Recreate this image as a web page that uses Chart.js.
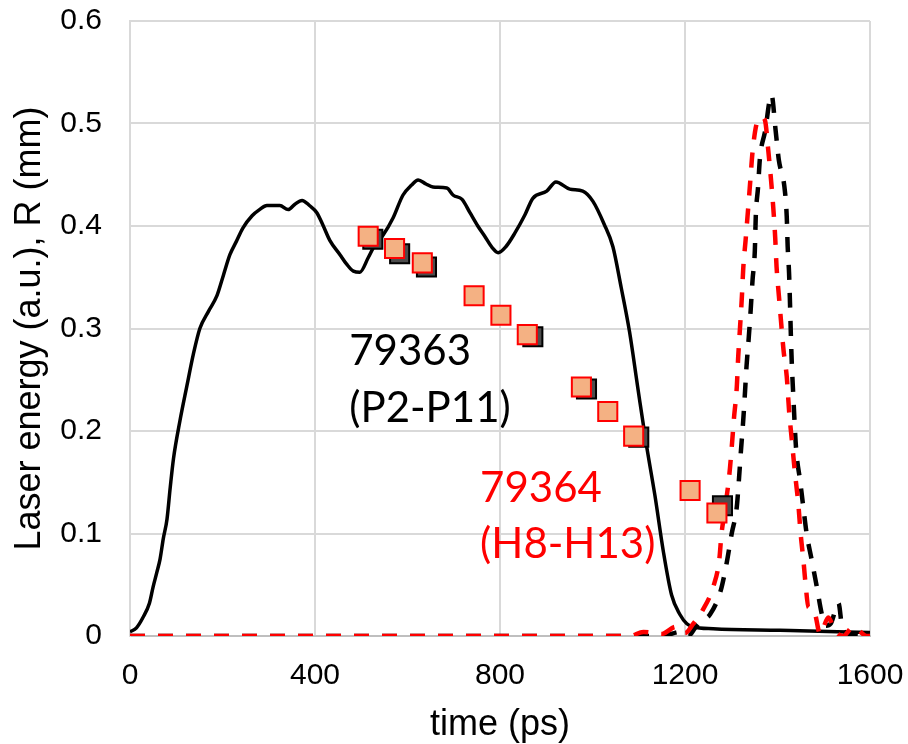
<!DOCTYPE html>
<html>
<head>
<script src="https://cdnjs.cloudflare.com/ajax/libs/Chart.js/4.4.1/chart.umd.min.js"></script>
<style>
  body { margin: 0; background: #fff; }
</style>
</head>
<body>
<canvas id="canvas" width="908" height="744"></canvas>
<script>
// laser pulse (solid black)
var laserTime = [0, 14, 28, 42, 50, 58, 65, 72, 80, 87, 94, 108, 123, 137, 151, 170, 188, 202, 216, 230, 244, 264, 280, 296, 324, 342, 356, 372, 388, 404, 418, 432, 454, 468, 483, 497, 515, 530, 547, 569, 590, 609, 623, 640, 655, 685, 699, 718, 735, 752, 767, 783, 796, 813, 832, 854, 871, 901, 921, 951, 979, 1001, 1025, 1044, 1062, 1080, 1098, 1116, 1135, 1153, 1171, 1189, 1204, 1218, 1261, 1405, 1550, 1600];
var laserEnergy = [0.004, 0.008, 0.018, 0.032, 0.048, 0.062, 0.075, 0.095, 0.114, 0.145, 0.173, 0.21, 0.244, 0.275, 0.300, 0.317, 0.332, 0.352, 0.372, 0.385, 0.398, 0.410, 0.416, 0.420, 0.420, 0.416, 0.421, 0.425, 0.420, 0.413, 0.400, 0.386, 0.372, 0.363, 0.356, 0.355, 0.369, 0.382, 0.391, 0.408, 0.430, 0.440, 0.445, 0.441, 0.438, 0.437, 0.430, 0.426, 0.413, 0.400, 0.390, 0.379, 0.374, 0.380, 0.393, 0.411, 0.427, 0.434, 0.443, 0.436, 0.434, 0.424, 0.402, 0.380, 0.340, 0.297, 0.242, 0.188, 0.137, 0.083, 0.040, 0.021, 0.012, 0.009, 0.007, 0.0055, 0.004, 0.0035];

// x-ray pulses (dashed)
var pulseTime79363 = [0, 1150, 1190, 1207, 1222, 1236, 1254, 1277, 1290, 1301, 1312, 1317, 1321, 1326, 1330, 1333, 1338, 1342, 1346, 1351, 1353, 1358, 1362, 1373, 1387, 1396, 1403, 1415, 1420, 1422, 1425, 1427, 1429, 1431, 1434, 1440, 1449, 1456, 1463, 1474, 1485, 1496, 1505, 1515, 1532, 1540, 1555, 1580, 1600];
var pulse79363 = [0, 0, 0.004, 0, 0.008, 0.015, 0.021, 0.044, 0.071, 0.100, 0.126, 0.155, 0.181, 0.211, 0.240, 0.263, 0.292, 0.318, 0.347, 0.376, 0.409, 0.438, 0.466, 0.492, 0.528, 0.493, 0.464, 0.438, 0.409, 0.380, 0.354, 0.325, 0.292, 0.265, 0.236, 0.184, 0.151, 0.125, 0.100, 0.074, 0.048, 0.021, 0.010, 0.012, 0.032, 0.008, 0.002, 0, 0];
var pulseTime79364 = [0, 1080, 1110, 1150, 1180, 1200, 1218, 1238, 1261, 1274, 1279, 1286, 1296, 1301, 1306, 1312, 1315, 1319, 1323, 1326, 1331, 1336, 1341, 1346, 1355, 1366, 1373, 1380, 1386, 1391, 1395, 1398, 1403, 1408, 1413, 1420, 1425, 1431, 1438, 1445, 1450, 1456, 1460, 1467, 1474, 1481, 1492, 1510, 1524, 1542, 1564, 1593, 1600];
var pulse79364 = [0, 0, 0.004, 0.002, 0.009, 0.003, 0.012, 0.025, 0.048, 0.074, 0.100, 0.122, 0.158, 0.184, 0.213, 0.243, 0.272, 0.301, 0.331, 0.359, 0.386, 0.414, 0.443, 0.472, 0.500, 0.506, 0.503, 0.474, 0.445, 0.417, 0.389, 0.360, 0.332, 0.305, 0.279, 0.253, 0.220, 0.191, 0.158, 0.129, 0.100, 0.074, 0.054, 0.028, 0.027, 0.022, 0.002, 0.018, 0.005, 0, 0.009, 0, 0];

// shell radius R (squares)
var rTime79363 = [525, 583, 641, 871, 987, 1100, 1281];
var r79363 = [0.387, 0.373, 0.360, 0.292, 0.241, 0.194, 0.127];
var rTime79364 = [515, 572, 632, 744, 802, 859, 976, 1033, 1089, 1211, 1269];
var r79364 = [0.390, 0.378, 0.364, 0.332, 0.313, 0.294, 0.243, 0.219, 0.195, 0.142, 0.120];

var xTicks = [0, 400, 800, 1200, 1600];
var yTicks = [0, 0.1, 0.2, 0.3, 0.4, 0.5, 0.6];

var labels = [
  { text: '79363', x: 474, y: 0.264, color: '#000000' },
  { text: '(P2-P11)', x: 474, y: 0.209, color: '#000000' },
  { text: '79364', x: 757, y: 0.131, color: '#FF0000' },
  { text: '(H8-H13)', x: 757, y: 0.076, color: '#FF0000' }
];

function pts(xs, ys) {
  return xs.map((x, i) => ({ x: x, y: ys[i] }));
}

var textPlugin = {
  id: 'textLabels',
  afterDatasetsDraw(chart) {
    var ctx = chart.ctx;
    var xs = chart.scales.x, ys = chart.scales.y;
    ctx.save();
    ctx.font = '42px Lato';
    ctx.textAlign = 'left';
    ctx.textBaseline = 'alphabetic';
    labels.forEach(l => {
      ctx.fillStyle = l.color;
      ctx.fillText(l.text, xs.getPixelForValue(l.x), ys.getPixelForValue(l.y));
    });
    ctx.restore();
  }
};

var ctx = document.getElementById('canvas').getContext('2d');
var myChart = new Chart(ctx, {
  type: 'scatter',
  data: {
    datasets: [
      {
        label: '79364 R',
        data: pts(rTime79364, r79364),
        pointStyle: 'rect',
        pointRadius: 13.5,
        pointBackgroundColor: '#F4B183',
        pointBorderColor: '#FF0000',
        pointBorderWidth: 2
      },
      {
        label: '79363 R',
        data: pts(rTime79363, r79363),
        pointStyle: 'rect',
        pointRadius: 13.5,
        pointBackgroundColor: '#4D4D4D',
        pointBorderColor: '#000000',
        pointBorderWidth: 2
      },
      {
        label: '79364 pulse',
        data: pts(pulseTime79364, pulse79364),
        showLine: true,
        pointRadius: 0,
        borderColor: '#FF0000',
        borderWidth: 4.5,
        borderDash: [15, 13],
        cubicInterpolationMode: 'monotone'
      },
      {
        label: '79363 pulse',
        data: pts(pulseTime79363, pulse79363),
        showLine: true,
        pointRadius: 0,
        borderColor: '#000000',
        borderWidth: 4.5,
        borderDash: [15, 13],
        cubicInterpolationMode: 'monotone'
      },
      {
        label: 'laser',
        data: pts(laserTime, laserEnergy),
        showLine: true,
        pointRadius: 0,
        borderColor: '#000000',
        borderWidth: 3.5,
        cubicInterpolationMode: 'monotone'
      }
    ]
  },
  options: {
    responsive: false,
    animation: false,
    layout: { padding: { top: 21, right: 38, left: 0, bottom: 0 } },
    plugins: {
      legend: { display: false },
      tooltip: { enabled: false }
    },
    scales: {
      x: {
        type: 'linear',
        min: 0,
        max: 1600,
        afterFit: s => { s.height = 108; s.paddingLeft = 0; s.paddingRight = 0; },
        afterBuildTicks: s => { s.ticks = xTicks.map(v => ({ value: v })); },
        grid: { color: '#D9D9D9', lineWidth: 2, drawTicks: false },
        border: { color: '#BFBFBF', width: 2 },
        ticks: {
          padding: 22,
          color: '#000000',
          font: { family: 'Liberation Sans', size: 30 },
          callback: v => String(v)
        },
        title: {
          display: true,
          text: 'time (ps)',
          color: '#000000',
          font: { family: 'Liberation Sans', size: 36, lineHeight: 1 },
          padding: { top: 0, bottom: 1 }
        }
      },
      y: {
        type: 'linear',
        min: 0,
        max: 0.6,
        afterFit: s => { s.width = 130; s.paddingTop = 0; s.paddingBottom = 0; },
        afterBuildTicks: s => { s.ticks = yTicks.map(v => ({ value: v })); },
        grid: { color: '#D9D9D9', lineWidth: 2, drawTicks: false },
        border: { color: '#D9D9D9', width: 2 },
        ticks: {
          padding: 28,
          color: '#000000',
          font: { family: 'Liberation Sans', size: 30 },
          callback: v => String(v)
        },
        title: {
          display: true,
          text: 'Laser energy (a.u.), R (mm)',
          color: '#000000',
          font: { family: 'Liberation Sans', size: 36, lineHeight: 1 },
          padding: { top: 12, bottom: 0 }
        }
      }
    }
  },
  plugins: [textPlugin]
});
</script>
</body>
</html>
